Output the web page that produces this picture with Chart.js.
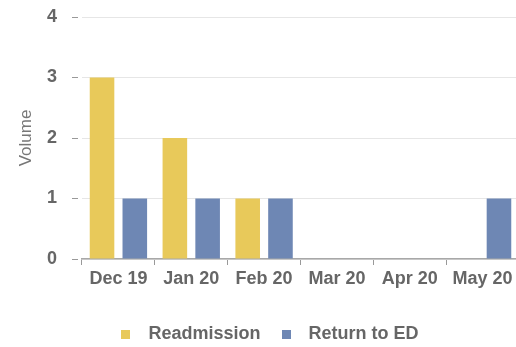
<!DOCTYPE html>
<html>
<head>
<meta charset="utf-8">
<script src="https://cdn.jsdelivr.net/npm/chart.js@4"></script>
<style>
  html, body { margin: 0; padding: 0; background: #fff; overflow: hidden; }
  .wrap { width: 516px; height: 347px; overflow: hidden; }
  .box { width: 540px; height: 347px; }
</style>
</head>
<body>
<div class="wrap"><div class="box"><canvas id="volume"></canvas></div></div>
<script>
  // monthly volumes
  var months = ["Dec 19", "Jan 20", "Feb 20", "Mar 20", "Apr 20", "May 20"];
  var readmission = [3, 2, 1, 0, 0, 0];
  var returnToEd = [1, 1, 1, 0, 0, 1];
  var yTicks = [0, 1, 2, 3, 4];

  var textGrey = "#666";
  var family = "'Liberation Sans', Arial, sans-serif";
  var font = { family: family, size: 18, weight: "bold" };

  // small square used as the legend swatch, centred in a wider slot
  function swatch(color) {
    var c = document.createElement("canvas");
    c.width = 9;
    c.height = 9;
    var g = c.getContext("2d");
    g.fillStyle = color;
    g.fillRect(0, 0, 9, 9);
    return c;
  }

  var yellow = "#e8c95a";
  var blue = "#6e87b4";

  new Chart(document.getElementById("volume").getContext("2d"), {
    type: "bar",
    data: {
      labels: months,
      datasets: [
        {
          label: "Readmission",
          data: readmission,
          backgroundColor: yellow,
          pointStyle: swatch(yellow),
          categoryPercentage: 0.9,
          barPercentage: 0.75
        },
        {
          label: "Return to ED",
          data: returnToEd,
          backgroundColor: blue,
          pointStyle: swatch(blue),
          categoryPercentage: 0.9,
          barPercentage: 0.75
        }
      ]
    },
    options: {
      responsive: true,
      maintainAspectRatio: false,
      animation: false,
      layout: { padding: { left: 12, right: 21, top: 17, bottom: -6 } },
      plugins: {
        tooltip: { enabled: false },
        legend: {
          position: "bottom",
          labels: {
            usePointStyle: true,
            pointStyleWidth: 27,
            boxHeight: 9,
            padding: 12,
            color: textGrey,
            font: font
          }
        }
      },
      scales: {
        x: {
          grid: {
            offset: true,
            drawOnChartArea: false,
            drawTicks: true,
            tickLength: 6,
            tickColor: "#999"
          },
          border: { display: true, color: "#a8a8a8", width: 1.5 },
          ticks: { color: textGrey, font: font, padding: 3, maxRotation: 0 },
          afterFit: function(scale) { scale.height = 54; }
        },
        y: {
          min: 0,
          max: 4,
          afterBuildTicks: function(scale) {
            scale.ticks = yTicks.map(function(v) { return { value: v }; });
          },
          afterFit: function(scale) {
            scale.width = 70;
            // top label may sit in the layout padding
            scale.paddingTop = 0;
            scale.paddingBottom = 0;
          },
          grid: {
            color: "#e6e6e6",
            drawTicks: true,
            tickLength: 10,
            tickColor: "#999",
            tickBorderDash: [6, 4]
          },
          border: { display: false },
          ticks: { color: textGrey, font: font, padding: 15 },
          title: {
            display: true,
            text: "Volume",
            color: "#777",
            font: { family: family, size: 17 },
            padding: { top: 4, bottom: 4 }
          }
        }
      }
    }
  });
</script>
</body>
</html>
